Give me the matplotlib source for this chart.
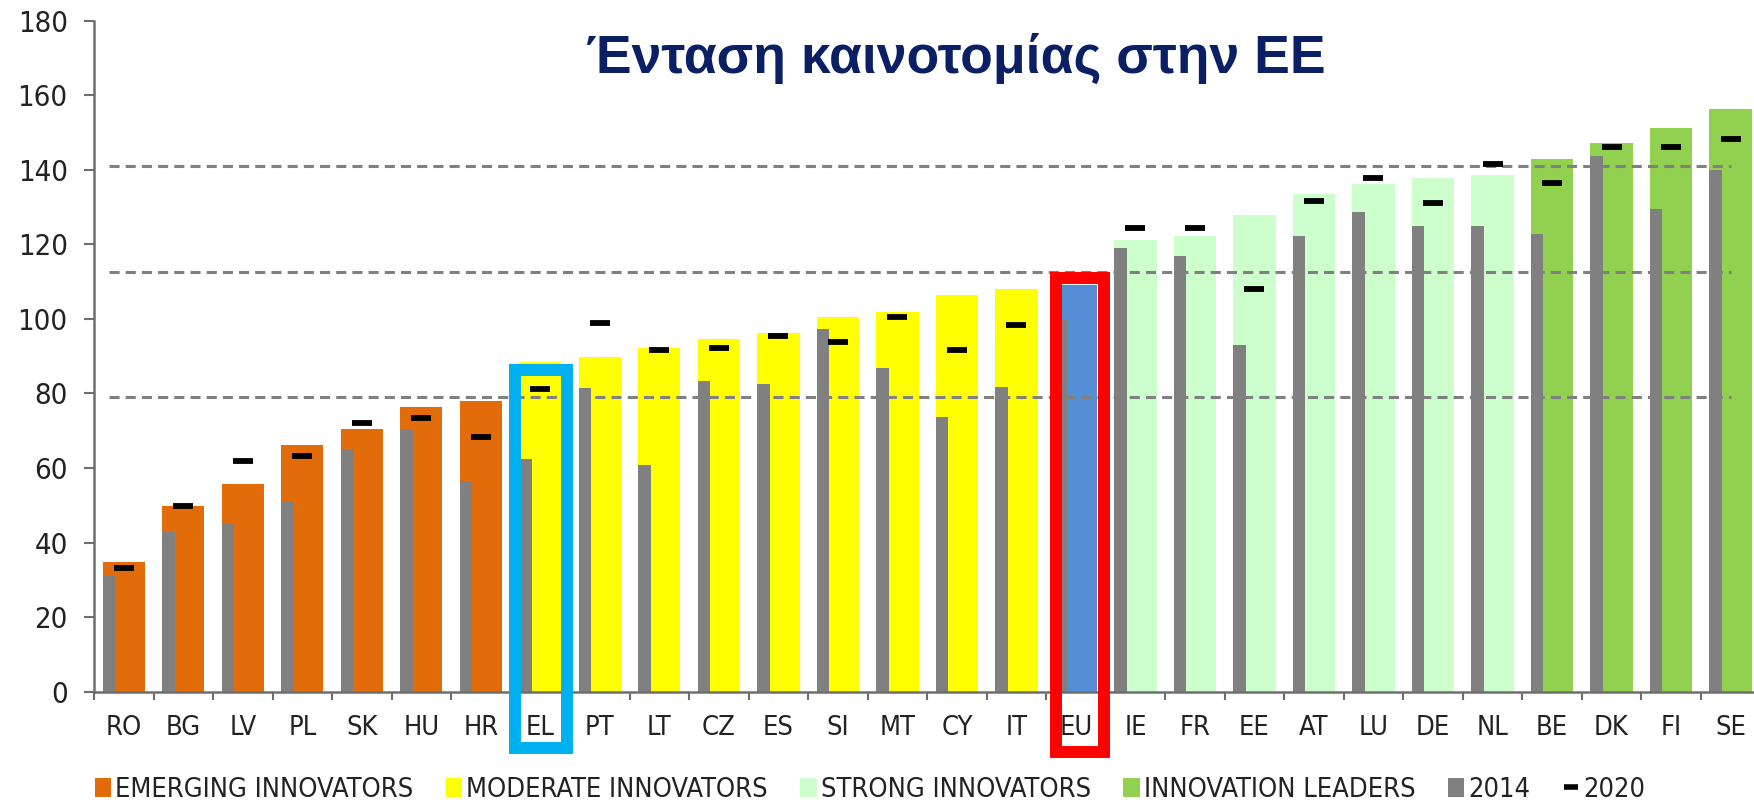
import matplotlib
matplotlib.use("Agg")
import numpy as np
import matplotlib.pyplot as plt
from matplotlib.patches import Patch, Rectangle
from matplotlib.lines import Line2D

plt.rcParams['font.family'] = ['DejaVu Sans']
plt.rcParams['font.stretch'] = 'condensed'

# countries in chart order
countries = ["RO", "BG", "LV", "PL", "SK", "HU", "HR", "EL", "PT", "LT", "CZ", "ES", "SI", "MT",
             "CY", "IT", "EU", "IE", "FR", "EE", "AT", "LU", "DE", "NL", "BE", "DK", "FI", "SE"]

# group of each country (0 emerging, 1 moderate, 2 strong, 3 leaders, 4 EU)
groups = [0, 0, 0, 0, 0, 0, 0, 1, 1, 1, 1, 1, 1, 1,
          1, 1, 4, 2, 2, 2, 2, 2, 2, 2, 3, 3, 3, 3]

# current score (coloured bars)
score = [34.9, 49.8, 55.6, 66.1, 70.5, 76.5, 78.0, 88.5, 89.9, 92.3, 94.5, 96.1, 100.6, 101.9,
         106.5, 108.0, 109.2, 121.3, 122.2, 128.0, 133.4, 136.2, 137.7, 138.5, 143.0, 147.3, 151.2, 156.3]

# 2014 score (grey bars)
score_2014 = [31.0, 42.9, 45.1, 51.2, 65.2, 70.5, 56.5, 62.3, 81.6, 60.9, 83.3, 82.5, 97.4, 86.8,
              73.6, 81.7, 99.7, 119.0, 117.0, 93.1, 122.2, 128.8, 124.9, 124.9, 122.8, 143.7, 129.5, 139.9]

# 2020 score (black dashes), none for EU
score_2020 = [33.3, 49.8, 61.8, 63.2, 72.1, 73.5, 68.4, 81.1, 99.0, 91.6, 92.3, 95.3, 93.8, 100.6,
              91.6, 98.4, np.nan, 124.4, 124.4, 107.9, 131.7, 137.8, 131.0, 141.5, 136.4, 146.0, 146.0, 148.4]

# group thresholds (dashed lines)
thresholds = [79, 112.5, 141]

group_names = ["EMERGING INNOVATORS", "MODERATE INNOVATORS", "STRONG INNOVATORS", "INNOVATION LEADERS"]
group_colors = ["#e36c0a", "#ffff00", "#ccffcc", "#92d050", "#558ed5"]

fig = plt.figure(figsize=(17.54, 8), dpi=100)
ax = fig.add_axes([0.0536, 0.1354, 0.95, 0.8387])

x = np.arange(len(countries))
bar_w = 0.71
colors = [group_colors[g] for g in groups]
ax.bar(x, score, width=bar_w, color=colors, zorder=1)
ax.bar(x - bar_w / 2, score_2014, width=0.21, align='edge', color="#808080", zorder=2)

ax.hlines(thresholds, -0.25, 27.0, colors="#808080", linewidth=2.2,
          linestyles=(0, (3.3, 2.0)), zorder=3)

ax.plot(x, score_2020, linestyle='none', marker='_', markersize=14, mew=4.2,
        color="black", zorder=5)

# highlight boxes for Greece and the EU
i_el = countries.index("EL")
i_eu = countries.index("EU")
ax.add_patch(Rectangle((i_el - 0.42, -15.2), 0.87, 86.2 + 15.2, fill=False,
                       edgecolor="#00b0f0", linewidth=8.6, clip_on=False, zorder=6))
ax.add_patch(Rectangle((i_eu - 0.34, -16.3), 0.81, 110.9 + 16.3, fill=False,
                       edgecolor="#ff0000", linewidth=8.6, clip_on=False, zorder=6))

ax.set_xlim(-0.5, len(countries) - 0.5)
ax.set_ylim(0, 180)
ax.set_yticks(np.arange(0, 181, 20))
ax.set_xticks(x)
ax.set_xticklabels(countries)
ax.set_xticks(np.arange(-0.5, len(countries), 1.0), minor=True)

for s in ["top", "right"]:
    ax.spines[s].set_visible(False)
for s in ["left", "bottom"]:
    ax.spines[s].set_color("#6e6e6e")
    ax.spines[s].set_linewidth(1.8)

ax.tick_params(axis='x', which='major', length=0, pad=17, labelsize=19.5, labelcolor="#222222")
ax.tick_params(axis='x', which='minor', length=6, width=1.5, color="#6e6e6e")
ax.tick_params(axis='y', length=7, width=1.5, color="#6e6e6e", labelsize=21, labelcolor="#222222", pad=12)

fig.text(0.545, 0.909, "Ένταση καινοτομίας στην ΕΕ", ha='center', va='baseline',
         fontsize=38.5, fontweight='bold', color="#0b1f65",
         family=['Liberation Sans', 'DejaVu Sans'], fontstretch='normal')

handles = [Patch(facecolor=group_colors[k]) for k in range(4)]
handles.append(Patch(facecolor="#808080"))
handles.append(Line2D([], [], linestyle='none', marker='_', markersize=10, mew=4, color="black"))
labels = group_names + ["2014", "2020"]
fig.legend(handles, labels, loc='lower center', bbox_to_anchor=(0.496, -0.034), ncol=6,
           frameon=False, fontsize=19.5, handlelength=0.6, handleheight=0.7,
           handletextpad=0.15, columnspacing=1.2, labelcolor="#222222")

fig.savefig("out.png", dpi=100)
